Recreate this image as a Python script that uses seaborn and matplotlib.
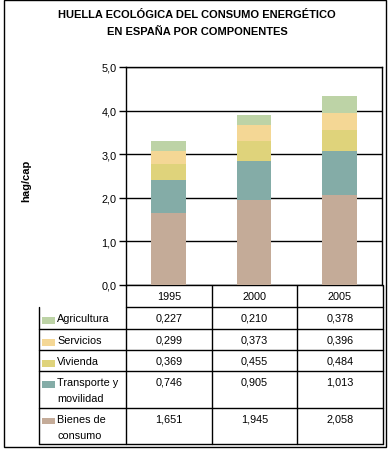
import numpy as np
import pandas as pd
import matplotlib
matplotlib.use('Agg')
import matplotlib.pyplot as plt
import seaborn as sns

years = ['1995', '2000', '2005']
components = ['Agricultura', 'Servicios', 'Vivienda', 'Transporte y\nmovilidad', 'Bienes de\nconsumo']
agricultura = [0.227, 0.210, 0.378]
servicios = [0.299, 0.373, 0.396]
vivienda = [0.369, 0.455, 0.484]
transporte = [0.746, 0.905, 1.013]
bienes = [1.651, 1.945, 2.058]
colors = ['#bdd3a6', '#f4d795', '#dfd37b', '#84aca7', '#c4ab98']
title_lines = ['HUELLA ECOLÓGICA DEL CONSUMO ENERGÉTICO', 'EN ESPAÑA POR COMPONENTES']

sns.set_style('white')
plt.rcParams['font.family'] = ['Liberation Sans', 'DejaVu Sans']
plt.rcParams['text.color'] = 'black'
plt.rcParams['ytick.color'] = 'black'
plt.rcParams['xtick.color'] = 'black'
plt.rcParams['ytick.labelcolor'] = 'black'
FS = 7.8

W, H = 391, 456
fig = plt.figure(figsize=(W / 100, H / 100), dpi=100)

# pixel box helper
def px_axes(x0, y0, x1, y1, **kw):
    return fig.add_axes([x0 / W, 1 - y1 / H, (x1 - x0) / W, (y1 - y0) / H], **kw)

# overlay for border / title / table
ov = px_axes(0, 0, W, H)
ov.set_xlim(0, W)
ov.set_ylim(H, 0)
ov.axis('off')
ov.add_patch(plt.Rectangle((3.5, 0.5), 382, 448, fill=False, lw=1, ec='black'))
ov.text(197, 15, title_lines[0], ha='center', va='center', fontsize=FS + 0.2, fontweight='bold')
ov.text(197, 32, title_lines[1], ha='center', va='center', fontsize=FS + 0.2, fontweight='bold')
ov.text(26, 181, 'hag/cap', rotation=90, ha='center', va='center', fontsize=8,
        fontweight='bold')

ax = px_axes(126, 68, 382, 286)
ax.set_zorder(2)

df = pd.DataFrame({'year': years, 'Agricultura': agricultura, 'Servicios': servicios,
                   'Vivienda': vivienda, 'Transporte': transporte, 'Bienes': bienes})
stack = ['Bienes', 'Transporte', 'Vivienda', 'Servicios', 'Agricultura']
stack_colors = {'Agricultura': colors[0], 'Servicios': colors[1], 'Vivienda': colors[2],
                'Transporte': colors[3], 'Bienes': colors[4]}
bottom = np.zeros(len(years))
for comp in stack:
    sns.barplot(x=df['year'], y=df[comp], bottom=bottom, color=stack_colors[comp],
                width=0.41, saturation=1, ax=ax, zorder=3, linewidth=0)
    bottom = bottom + df[comp].values

ticks = np.arange(0, 5.1, 1)
ax.set_ylim(0, 5)
ax.set_xlim(-0.5, 2.5)
ax.set_yticks(ticks)
ax.set_yticklabels([f'{v:.1f}'.replace('.', ',') for v in ticks], fontsize=FS, color='black')
ax.set_xticks([])
ax.set_xlabel('')
ax.set_ylabel('')
ax.grid(axis='y', color='black', lw=1)
ax.set_axisbelow(True)
ax.tick_params(axis='y', length=5, width=1, color='black', left=True, pad=2)
for s in ax.spines.values():
    s.set_color('black')
    s.set_linewidth(1)

# table
cols = [39, 126, 212, 297, 383]
rows = [286, 308, 330, 351, 372, 409, 445]
lw = 1
ov.plot([126, 383], [rows[1], rows[1]], color='black', lw=lw)
for x in cols[1:]:
    ov.plot([x, x], [rows[0], rows[-1]], color='black', lw=lw)
for i, yr in enumerate(years):
    ov.text((cols[i + 1] + cols[i + 2]) / 2, (rows[0] + rows[1]) / 2, yr,
            ha='center', va='center', fontsize=FS)
ov.plot([39, 39], [rows[1], rows[-1]], color='black', lw=lw)
for y in rows[2:]:
    ov.plot([39, 383], [y, y], color='black', lw=lw)

table_values = [agricultura, servicios, vivienda, transporte, bienes]
for r, (name, vals, c) in enumerate(zip(components, table_values, colors)):
    top = rows[r + 1]
    ov.add_patch(plt.Rectangle((42, top + 10), 13, 6.5, color=c, lw=0))
    for k, line in enumerate(name.split('\n')):
        ov.text(57, top + 11.5 + 15.5 * k, line, ha='left', va='center', fontsize=FS)
    for i, v in enumerate(vals):
        ov.text((cols[i + 1] + cols[i + 2]) / 2, top + 11, f'{v:.3f}'.replace('.', ','),
                ha='center', va='center', fontsize=FS)

fig.savefig('out.png', dpi=100)
